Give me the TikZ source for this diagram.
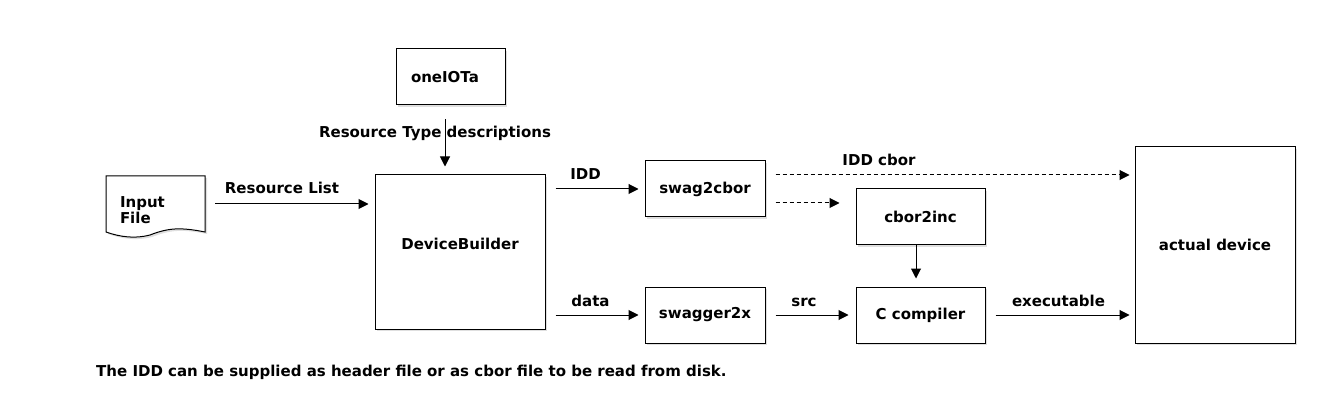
\documentclass[tikz,border=0pt]{standalone}
\usepackage{fontspec}
\setmainfont{DejaVu Sans}
\usetikzlibrary{arrows.meta, shadows}
\tikzset{
  block text/.style={
    inner sep=0pt,
    font=\bfseries\fontsize{15}{14}\selectfont,
  },
  block shadow/.style={
    drop shadow={shadow xshift=2pt, shadow yshift=-2pt, opacity=0.25},
  },
  block node/.style={
    block text,
    block shadow,
    draw,
    fill=white,
    line width=1pt,
  },
  flow label/.style={
    block text,
    anchor=base,
  },
  flow/.style={-{Triangle[length=10pt, width=10pt]}, line width=1pt},
}

\begin{document}
\begin{tikzpicture}[x=1pt, y=-1pt]
      \useasboundingbox (0,0) rectangle (1320,406);

      \coordinate (rtx) at (445,0);
      \coordinate (rsl) at (0,204);
      \coordinate (idd) at (0,175);
      \coordinate (cbr) at (0,203);
      \coordinate (inc) at (916,0);

      \node[block node, minimum width=109, minimum height=56, align=left,
            text width=79, inner xsep=15] (onei) at (450.5,77) {oneIOTa};
      \node[block node, minimum width=170, minimum height=154] (builder) at (460,252)  {\raisebox{16pt}{DeviceBuilder}};
      \node[block node, minimum width=120, minimum height=56] (s2c)     at (705,189)   {swag2cbor};
      \node[block node, minimum width=129, minimum height=56] (c2i)     at (920.5,217) {cbor2inc};
      \node[block node, minimum width=120, minimum height=56] (sw2x)    at (705,315)   {swagger2x};
      \node[block node, minimum width=129, minimum height=56] (cc)      at (920.5,315) {C compiler};
      \node[block node, minimum width=160, minimum height=196] (dev)    at (1215,245)  {actual device};

      % document shape of the input file
      \draw[block shadow, fill=white, line width=1pt]
        (106,176) -- (205,176) -- (205,232)
        .. controls (180,227) and (168,228) .. (150,235)
        .. controls (135,239) and (120,237) .. (106,232) -- cycle;
      \node[block text, align=left, minimum width=99, text width=71, inner xsep=14]
        (inp) at (155.5,210) {Input\\File};

      \path[flow, shorten <=10pt, shorten >=6pt]  (inp.east |- rsl) edge (builder.west |- rsl);
      \path[flow, shorten <=14pt, shorten >=8pt]  (onei.south -| rtx) edge (builder.north -| rtx);
      \path[flow, shorten <=10pt, shorten >=6pt]  (builder.east |- s2c) edge (s2c.west);
      \path[flow, shorten <=10pt, shorten >=6pt]  (builder.east |- sw2x) edge (sw2x.west);
      \path[flow, shorten <=10pt, shorten >=5pt, dash pattern=on 4pt off 3pt]
        (s2c.east |- idd) edge (dev.west |- idd);
      \path[flow, shorten <=10pt, shorten >=16pt, dash pattern=on 4pt off 3pt]
        (s2c.east |- cbr) edge (c2i.west |- cbr);
      \path[flow, shorten >=8pt]                  (c2i.south -| inc) edge (cc.north -| inc);
      \path[flow, shorten <=10pt, shorten >=7pt]  (sw2x.east) edge (cc.west);
      \path[flow, shorten <=10pt, shorten >=5pt]  (cc.east) edge (dev.west |- cc);

      \node[flow label] (l-list) at (282,194)    {Resource List};
      \node[flow label] (l-rtd)  at (435,138)    {Resource Type descriptions};
      \node[flow label] (l-idd)  at (585.5,180)  {IDD};
      \node[flow label] (l-data) at (590.5,306)  {data};
      \node[flow label] (l-cbor) at (879,166)    {IDD cbor};
      \node[flow label] (l-src)  at (804,306)    {src};
      \node[flow label] (l-exe)  at (1058.5,306) {executable};

      \node[flow label, anchor=base west]
        (note) at (96,376) {The IDD can be supplied as header file or as cbor file to be read from disk.};
    \end{tikzpicture}
\end{document}
